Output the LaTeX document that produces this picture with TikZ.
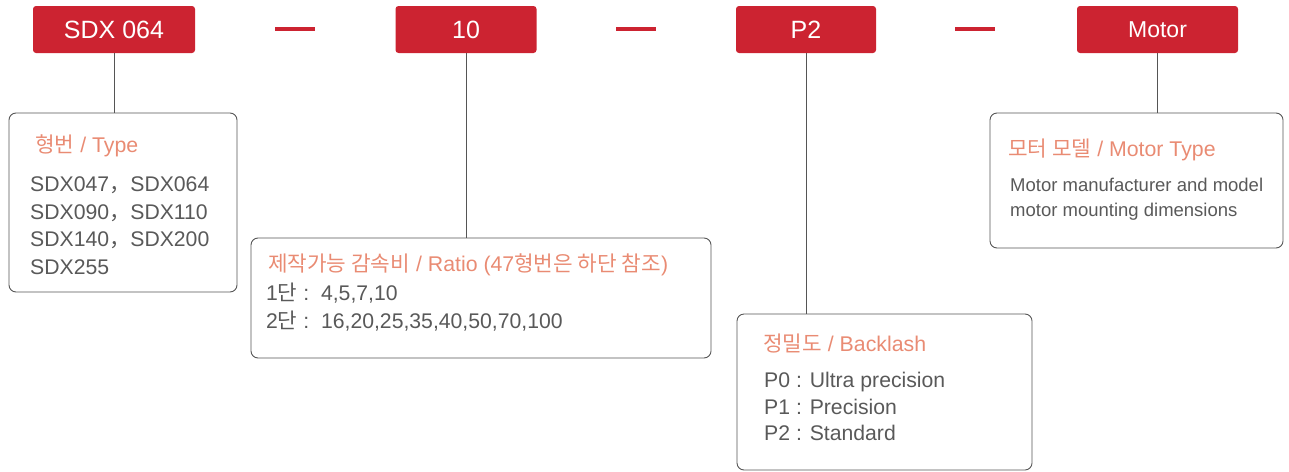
\documentclass[tikz,border=0pt]{standalone}
\usepackage{fontspec}
\setmainfont{Liberation Sans}
\newfontfamily\krfont{Noto Sans CJK KR}
\newcommand{\krt}[1]{{\krfont #1}}
\definecolor{brandred}{HTML}{CC2331}
\definecolor{salmon}{HTML}{E98B73}
\definecolor{txtgray}{HTML}{595959}
\definecolor{linegray}{HTML}{555555}
\tikzset{
  redbox/.style={fill=brandred, rounded corners=3pt, inner sep=0pt, text=white,
    font=\fontsize{25}{25}\selectfont},
  infobox/.style={draw=linegray, line width=0.9pt, rounded corners=7pt, inner sep=0pt},
  dashbar/.style={fill=brandred, inner sep=0pt, minimum width=40pt, minimum height=4pt},
  conn/.style={draw=linegray, line width=1pt},
  ttl/.style={anchor=base west, inner sep=0pt, text=salmon, font=\fontsize{21.3}{21.3}\selectfont},
  body/.style={anchor=base west, inner sep=0pt, text=txtgray, font=\fontsize{21.2}{21.2}\selectfont},
  smallbody/.style={anchor=base west, inner sep=0pt, text=txtgray, font=\fontsize{18.5}{18.5}\selectfont},
}
\begin{document}
\begin{tikzpicture}[x=1pt,y=-1pt]
\useasboundingbox (0,0) rectangle (1289,471);
% red header boxes
\node[redbox, minimum width=162pt, minimum height=47pt] (r1) at (114,29.5) {SDX 064};
\node[redbox, minimum width=141pt, minimum height=47pt] (r2) at (466,29.5) {10};
\node[redbox, minimum width=140pt, minimum height=47pt] (r3) at (806,29.5) {P2};
\node[redbox, minimum width=161pt, minimum height=47pt, font=\fontsize{23}{23}\selectfont] (r4) at (1157.5,29.5) {Motor};
% dashes
\node[dashbar] (d1) at (295,28.5) {};
\node[dashbar] (d2) at (635.5,28.5) {};
\node[dashbar] (d3) at (975,28.5) {};
% info boxes
\node[infobox, minimum width=228pt, minimum height=179pt] (t1) at (123,202.5) {};
\node[infobox, minimum width=460pt, minimum height=120pt] (t2) at (481,298) {};
\node[infobox, minimum width=295pt, minimum height=156pt] (t3) at (884.5,392) {};
\node[infobox, minimum width=293pt, minimum height=135pt] (t4) at (1136.5,180.5) {};
% connectors
\draw[conn] (r1.south) -- (r1.south |- t1.north);
\draw[conn] (r2.south) -- (r2.south |- t2.north);
\draw[conn] (r3.south) -- (r3.south |- t3.north);
\draw[conn] (r4.south) -- (r4.south |- t4.north);
% texts box 1
\node[ttl] (t1a) at (35,152) {\krt{형번} / Type};
\node[body] (t1b) at (30,191) {SDX047\krt{，}SDX064};
\node[body] (t1c) at (30,219) {SDX090\krt{，}SDX110};
\node[body] (t1d) at (30,246) {SDX140\krt{，}SDX200};
\node[body] (t1e) at (30,274) {SDX255};
% texts box 2
\node[ttl] (t2a) at (268,271) {\krt{제작가능 감속비} / Ratio (47\krt{형번은 하단 참조})};
\node[body] (t2b) at (266,300) {1\krt{단} :\ \ 4,5,7,10};
\node[body] (t2c) at (266,328) {2\krt{단} :\ \ 16,20,25,35,40,50,70,100};
% texts box 3
\node[ttl] (t3a) at (763,351) {\krt{정밀도} / Backlash};
\node[body] (t3b) at (764,387) {P0 : Ultra precision};
\node[body] (t3c) at (764,414) {P1 : Precision};
\node[body] (t3d) at (764,440) {P2 : Standard};
% texts box 4
\node[ttl] (t4a) at (1008,156) {\krt{모터 모델} / Motor Type};
\node[smallbody] (t4b) at (1010,191) {Motor manufacturer and model};
\node[smallbody] (t4c) at (1010,216) {motor mounting dimensions};
\end{tikzpicture}
\end{document}
